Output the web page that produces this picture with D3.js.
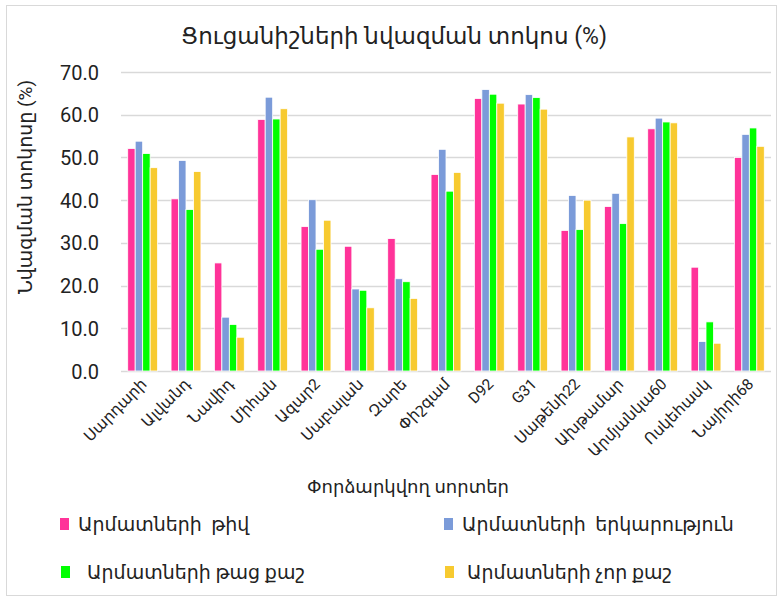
<!DOCTYPE html>
<html>
<head>
<meta charset="utf-8">
<script src="https://cdn.jsdelivr.net/npm/d3@7"></script>
<style>
  body { margin: 0; background: #fff; }
  svg text { font-family: Roboto, "DejaVu Sans", sans-serif; fill: #222; white-space: pre; }
</style>
</head>
<body>
<div id="chart"></div>
<script>
// categories (varieties)
var varieties = ["Սարդարի", "Ալվանդ", "Նավիդ", "Միհան", "Ազար2", "Սաբալան", "Զարե", "Փիշգամ",
  "D92", "G31", "Սաթենի22", "Ախթամար", "Արմյանկա60", "Ոսկեհասկ", "Նայիրի68"];

var seriesNames = ["Արմատների  թիվ", "Արմատների  երկարություն", "Արմատների թաց քաշ", "Արմատների չոր քաշ"];
var seriesColors = ["#ff3399", "#7b9bd9", "#00ff00", "#f7ca30"];

var rootCount   = [52.1, 40.3, 25.3, 58.9, 33.8, 29.2, 31.0, 46.0, 63.8, 62.5, 32.9, 38.5, 56.7, 24.3, 50.0];
var rootLength  = [53.8, 49.3, 12.6, 64.1, 40.1, 19.2, 21.6, 51.9, 65.9, 64.7, 41.1, 41.6, 59.2, 6.9, 55.4];
var rootWet     = [50.9, 37.8, 10.9, 59.0, 28.5, 18.9, 20.9, 42.1, 64.8, 64.0, 33.1, 34.5, 58.3, 11.5, 56.9];
var rootDry     = [47.6, 46.7, 7.9, 61.4, 35.3, 14.8, 17.0, 46.5, 62.7, 61.3, 40.0, 54.8, 58.1, 6.5, 52.6];

var yTicks = [0, 10, 20, 30, 40, 50, 60, 70];

var allSeries = [rootCount, rootLength, rootWet, rootDry];

var W = 780, H = 598;
var plotLeft = 121, plotRight = 771, plotTop = 72, plotBottom = 371;

var svg = d3.select("#chart").append("svg")
  .attr("width", W).attr("height", H);

// frame
svg.append("rect")
  .attr("x", 6.5).attr("y", 5.5).attr("width", 770).attr("height", 590)
  .attr("fill", "none").attr("stroke", "#d9d9d9");

var x = d3.scaleBand().domain(varieties).range([plotLeft, plotRight]).paddingInner(0.31).paddingOuter(0.155);
var xs = d3.scaleBand().domain(d3.range(4)).range([0, x.bandwidth()]);
var y = d3.scaleLinear().domain([0, 70]).range([plotBottom, plotTop]);

// grid
svg.append("g").selectAll("line")
  .data(yTicks)
  .join("line")
  .attr("x1", plotLeft).attr("x2", plotRight)
  .attr("y1", d => Math.round(y(d)) + 0.5).attr("y2", d => Math.round(y(d)) + 0.5)
  .attr("stroke", "#d9d9d9").attr("stroke-width", 1.3);

// y tick labels
var yAxis = d3.axisLeft(y).tickValues(yTicks).tickFormat(d3.format(".1f")).tickSize(0).tickPadding(0);
var gy = svg.append("g").attr("transform", "translate(99,0)").call(yAxis);
gy.select(".domain").remove();
gy.selectAll("text").attr("font-size", 20).attr("fill", "#222").attr("dy", "0.35em")
  .style("font-family", "Roboto, sans-serif");

// bars
var groups = svg.append("g").selectAll("g")
  .data(varieties)
  .join("g")
  .attr("transform", d => "translate(" + x(d) + ",0)");

groups.selectAll("rect")
  .data((d, i) => allSeries.map((s, k) => ({ k: k, v: s[i] })))
  .join("rect")
  .attr("x", d => xs(d.k))
  .attr("width", xs.bandwidth())
  .attr("y", d => y(d.v))
  .attr("height", d => y(0) - y(d.v))
  .attr("fill", d => seriesColors[d.k])
  .attr("stroke", "#fff").attr("stroke-width", 0.8);

// x labels
var xAxis = d3.axisBottom(x).tickSize(0).tickPadding(0);
var gx = svg.append("g").attr("transform", "translate(0," + plotBottom + ")").call(xAxis);
gx.select(".domain").remove();
gx.selectAll("text")
  .attr("font-size", 15.5).attr("fill", "#222")
  .attr("text-anchor", "end")
  .attr("dy", 0).attr("y", 0)
  .attr("transform", "translate(5,14) rotate(-45)");

// title
svg.append("text").attr("x", 394).attr("y", 44)
  .attr("text-anchor", "middle").attr("font-size", 23)
  .text("Ցուցանիշների նվազման տոկոս (%)");

// y title
svg.append("text")
  .attr("transform", "translate(32,187) rotate(-90)")
  .attr("text-anchor", "middle").attr("font-size", 19)
  .text("Նվազման տոկոսը (%)");

// x title
svg.append("text").attr("x", 408).attr("y", 493)
  .attr("text-anchor", "middle").attr("font-size", 18)
  .text("Փորձարկվող սորտեր");

// legend
var legPos = [[60, 524], [444, 524], [61, 572], [445, 572]];
var legTextX = [78, 462, 87, 467];
var leg = svg.append("g").selectAll("g")
  .data(seriesNames)
  .join("g");
leg.append("rect")
  .attr("x", (d, i) => legPos[i][0]).attr("y", (d, i) => legPos[i][1] - 6)
  .attr("width", 9).attr("height", 12)
  .attr("fill", (d, i) => seriesColors[i]);
leg.append("text")
  .attr("x", (d, i) => legTextX[i]).attr("y", (d, i) => legPos[i][1])
  .attr("dy", "0.35em").attr("font-size", 19)
  .text(d => d);
</script>
</body>
</html>
